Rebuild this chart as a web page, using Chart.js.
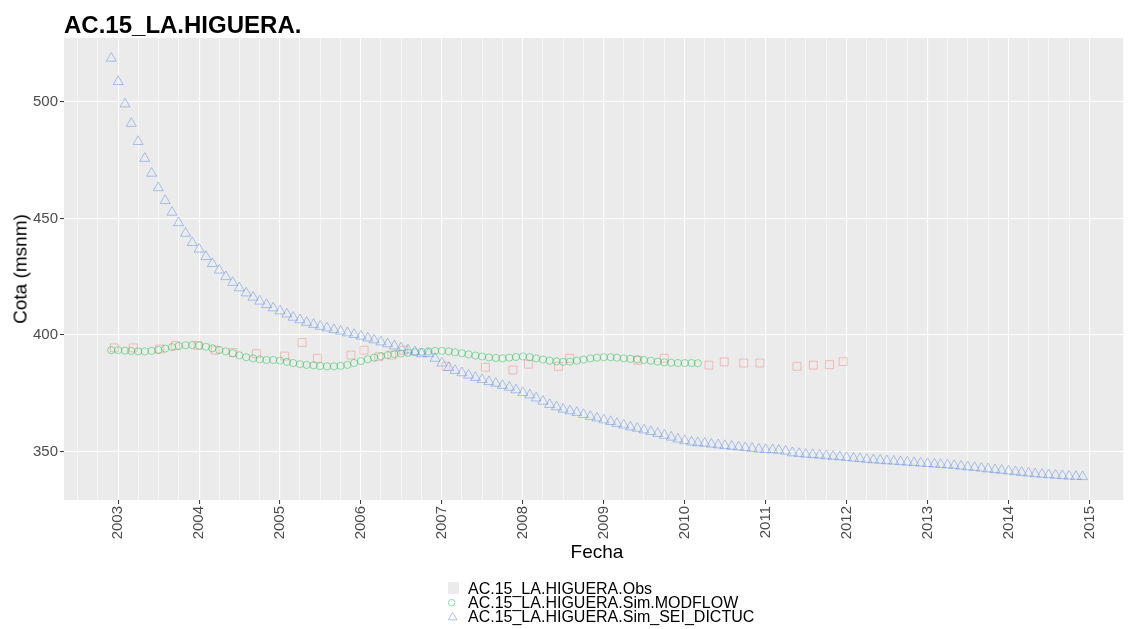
<!DOCTYPE html>
<html><head><meta charset="utf-8">
<script src="https://cdn.jsdelivr.net/npm/chart.js@4.4.1/dist/chart.umd.min.js"></script>
<style>
html,body{margin:0;padding:0;background:#fff;overflow:hidden;}
#wrap{position:relative;width:1130px;height:629px;font-family:"Liberation Sans",Arial,sans-serif;}
canvas{position:absolute;left:0;top:0;}
.t{position:absolute;white-space:nowrap;color:#000;line-height:1;}
</style></head><body>
<div id="wrap">
<canvas id="c" width="1130" height="629"></canvas>
<div class="t" style="left:64px;top:13px;font-size:24px;font-weight:bold;">AC.15_LA.HIGUERA.</div>
<div class="t" style="left:20px;top:269px;font-size:19px;transform:translate(-50%,-50%) rotate(-90deg);">Cota (msnm)</div>
<div class="t" style="left:597px;top:551px;font-size:19px;transform:translate(-50%,-50%);">Fecha</div>
<svg style="position:absolute;left:440px;top:576px" width="30" height="50">
 <rect x="8" y="6" width="11" height="12" fill="#EBEBEB"/>
 <circle cx="11.7" cy="26.7" r="3.3" fill="none" stroke="rgba(0,186,56,0.45)" stroke-width="1"/>
 <polygon points="12.7,36.4 17,43.9 8.4,43.9" fill="none" stroke="rgba(90,140,230,0.5)" stroke-width="1"/>
</svg>
<div class="t" id="lg1" style="left:468px;top:580.5px;font-size:16px;"></div>
<div class="t" id="lg2" style="left:468px;top:594.5px;font-size:16px;"></div>
<div class="t" id="lg3" style="left:468px;top:608.5px;font-size:16px;"></div>
</div>
<script>
// ---------------- DATA ----------------
const seriesNames = ['AC.15_LA.HIGUERA.Obs','AC.15_LA.HIGUERA.Sim.MODFLOW','AC.15_LA.HIGUERA.Sim_SEI_DICTUC'];
const yearTicks = [2003,2004,2005,2006,2007,2008,2009,2010,2011,2012,2013,2014,2015];
const yMajorTicks = [350,400,450,500];

// Observed (irregular dates)
const obsDates = ['2002-12-15','2003-03-10','2003-07-08','2003-09-16','2003-12-27','2004-03-14','2004-06-03','2004-09-16',
  '2005-01-22','2005-04-10','2005-06-18','2005-11-17','2006-01-15','2006-03-22','2006-05-20','2006-07-13',
  '2007-01-19','2007-07-16','2007-11-17','2008-01-26','2008-06-10','2008-07-31','2009-06-03','2009-10-01',
  '2010-04-20','2010-06-28','2010-09-24','2010-12-06','2011-05-22','2011-08-04','2011-10-16','2011-12-16'];
const obsValues = [394.5,394.5,394.0,395.5,395.5,393.5,392.5,392.0,
  391.0,396.8,390.0,391.4,393.5,390.7,391.4,393.5,
  386.6,386.2,385.0,387.5,386.6,390.0,389.2,390.0,
  387.1,388.5,388.0,388.0,386.6,387.1,387.3,388.6];

// MODFLOW (monthly from Dec 2002)
const modflowStart = '2002-12';
const modflowValues = [393.5,393.5,393.3,393.2,393.0,393.0,393.2,393.6,394.2,394.8,395.3,395.6,
  395.7,395.5,395.0,394.3,393.6,393.0,392.2,391.3,390.5,390.0,389.6,389.3,
  389.3,389.0,388.5,388.0,387.5,387.2,387.0,386.7,386.6,386.6,386.8,387.2,
  388.0,388.8,389.6,390.3,390.9,391.4,391.8,392.1,392.4,392.6,392.8,393.0,
  393.2,393.2,393.0,392.6,392.2,391.7,391.2,390.8,390.4,390.2,390.0,390.3,
  390.6,390.8,390.5,390.0,389.5,389.0,388.7,388.5,388.6,389.0,389.5,390.0,
  390.3,390.5,390.5,390.3,390.0,389.8,389.6,389.3,389.0,388.6,388.3,388.1,
  388.0,388.0,388.0,387.9];

// SEI_DICTUC (monthly from Dec 2002)
const seiStart = '2002-12';
const seiValues = [518.6,508.6,499.0,490.7,482.9,475.7,469.3,463.1,457.6,452.6,448.1,443.6,
  439.6,436.8,433.6,430.6,427.8,425.0,422.5,420.2,418.0,416.2,414.5,413.0,
  411.6,410.3,409.0,407.6,406.5,405.4,404.5,403.7,403.0,402.3,401.6,400.9,
  400.2,399.5,398.7,397.9,397.0,396.2,395.3,394.5,393.6,392.8,391.9,392.0,
  390.0,388.0,386.0,384.8,383.8,382.8,381.8,380.9,380.0,379.3,378.4,377.6,
  376.5,375.3,374.3,373.0,371.6,370.2,369.2,368.2,367.5,366.8,365.9,365.1,
  364.4,363.6,362.9,362.1,361.4,360.6,360.0,359.3,358.6,357.8,357.0,356.2,
  355.4,354.7,354.1,353.8,353.6,353.2,352.9,352.6,352.3,352.0,351.7,351.4,
  351.1,350.9,350.8,350.6,350.2,349.5,349.2,348.9,348.7,348.5,348.2,348.0,
  347.8,347.5,347.2,347.0,346.7,346.5,346.3,346.1,345.9,345.7,345.5,345.3,
  345.1,344.9,344.7,344.5,344.3,344.1,343.8,343.5,343.2,342.9,342.6,342.3,
  342.0,341.7,341.4,341.1,340.8,340.5,340.3,340.1,339.9,339.7,339.5,339.4,
  339.3];

const xMin = 2002.331, xMax = 2015.417;
const yMin = 329.3, yMax = 527.3;

// ---------------- HELPERS ----------------
function decYear(y, m, d){ // m 1-12
  const s = Date.UTC(y,0,1), e = Date.UTC(y+1,0,1);
  return y + (Date.UTC(y,m-1,d) - s)/(e - s);
}
function parseDate(str){ const p = str.split('-').map(Number); return decYear(p[0], p[1], p[2]||1); }
function monthly(start, values){
  let [y,m] = start.split('-').map(Number);
  return values.map(v => { const pt = {x: decYear(y,m,1), y: v}; m++; if(m>12){m=1;y++;} return pt; });
}
const obsPts = obsDates.map((d,i)=>({x: parseDate(d), y: obsValues[i]}));
const modPts = monthly(modflowStart, modflowValues);
const seiPts = monthly(seiStart, seiValues);

// x grid: years (major) + quarters (minor)
const xGrid = [];
for (let y = 2002; y <= 2015; y++) for (const m of [1,4,7,10]) { const v = decYear(y,m,1); if (v > xMin && v < xMax - 0.3) xGrid.push(v); }

document.getElementById('lg1').textContent = seriesNames[0];
document.getElementById('lg2').textContent = seriesNames[1];
document.getElementById('lg3').textContent = seriesNames[2];

const FONT = '"Liberation Sans", Arial, sans-serif';
Chart.defaults.font.family = FONT;

new Chart(document.getElementById('c'), {
  type: 'scatter',
  data: { datasets: [
    {label: seriesNames[0], data: obsPts, pointStyle:'rect', pointRadius:5.6, borderWidth:1,
     borderColor:'rgba(248,118,109,0.42)', backgroundColor:'rgba(0,0,0,0)', order:3},
    {label: seriesNames[1], data: modPts, pointStyle:'circle', pointRadius:3.6, borderWidth:1,
     borderColor:'rgba(0,186,56,0.42)', backgroundColor:'rgba(0,0,0,0)', order:2},
    {label: seriesNames[2], data: seiPts, pointStyle:'triangle', pointRadius:5.8, borderWidth:1,
     borderColor:'rgba(90,140,230,0.48)', backgroundColor:'rgba(0,0,0,0)', order:1}
  ]},
  options: {
    responsive:false, animation:false, devicePixelRatio:1,
    layout:{padding:{top:38,left:0,right:0,bottom:0}},
    plugins:{legend:{display:false}, tooltip:{enabled:false}},
    scales:{
      x:{type:'linear', min:xMin, max:xMax,
        afterBuildTicks:(s)=>{ s.ticks = xGrid.map(v=>({value:v})); },
        afterFit:(s)=>{ s.height = 129; },
        border:{display:false},
        grid:{color:'#ffffff', drawTicks:true, tickLength:4, tickWidth:1,
          lineWidth:(c)=> (c.tick && yearTicks.includes(c.tick.value)) ? 1.1 : 0.55,
          tickColor:(c)=> (c.tick && yearTicks.includes(c.tick.value)) ? '#333333' : 'rgba(0,0,0,0)'},
        ticks:{autoSkip:false, minRotation:90, maxRotation:90, padding:2, color:'#4D4D4D',
          font:{family:FONT, size:15},
          callback:(v)=> yearTicks.includes(v) ? String(v) : ''}
      },
      y:{type:'linear', min:yMin, max:yMax,
        afterBuildTicks:(s)=>{ s.ticks = yMajorTicks.map(v=>({value:v})); },
        afterFit:(s)=>{ s.width = 64; },
        border:{display:false},
        grid:{color:'#ffffff', drawTicks:true, tickLength:4, tickWidth:1, lineWidth:1.1, tickColor:'#333333'},
        ticks:{autoSkip:false, padding:2, color:'#4D4D4D', font:{family:FONT, size:15},
          callback:(v)=> String(v)}
      }
    }
  },
  plugins:[{id:'panelBg', beforeDraw(chart){
    const {ctx, chartArea:a} = chart; ctx.save(); ctx.fillStyle = '#EBEBEB';
    ctx.fillRect(a.left, a.top, a.right - a.left, a.bottom - a.top); ctx.restore(); }}]
});
</script>
</body></html>
